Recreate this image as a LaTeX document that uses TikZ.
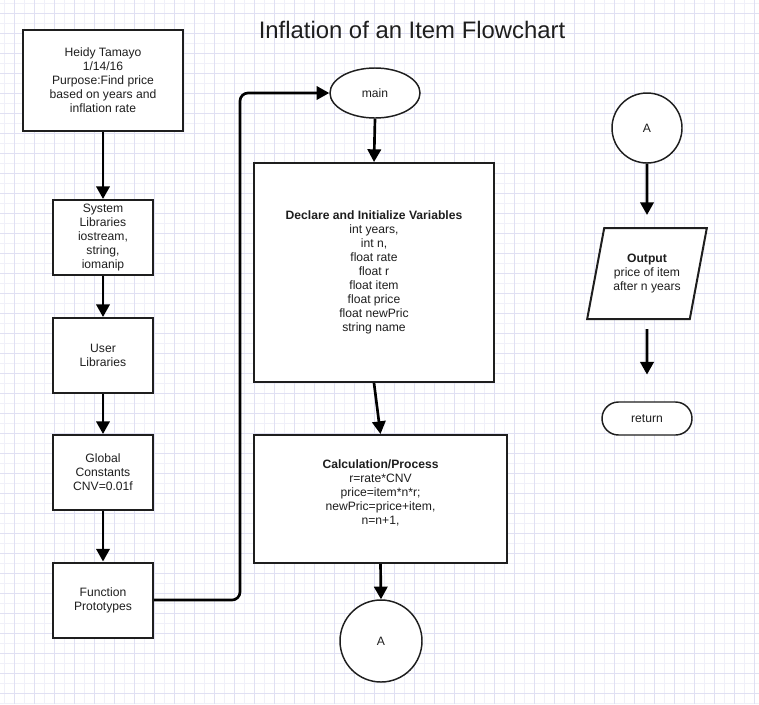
\documentclass[tikz,border=0pt]{standalone}
\usepackage{fontspec}
\setmainfont{Liberation Sans}
\usetikzlibrary{arrows.meta,shapes.geometric,shapes.misc}

\definecolor{gridmin}{RGB}{240,240,249}
\definecolor{gridmaj}{RGB}{224,224,243}
\definecolor{ink}{RGB}{30,30,30}

\tikzset{
  box/.style={draw=ink, line width=1.5pt, fill=white, align=center, inner sep=0pt},
  flow/.style={draw=black, line width=2pt, -{Triangle[length=9.5pt,width=10pt]}},
  conn/.style={circle, draw=ink, line width=1.1pt, fill=white, inner sep=0pt, minimum size=#1},
}

\begin{document}
\begin{tikzpicture}[x=0.75pt,y=-0.75pt,font=\fontsize{9.1}{10.5}\selectfont,text=ink]
\useasboundingbox (0,0) rectangle (759,704);
\fill[white] (0,0) rectangle (759,704);
% grid paper
\foreach \gx in {4,24,...,759} \draw[gridmin,line width=0.6pt] (\gx,0) -- (\gx,704);
\foreach \gy in {3,23,...,704} \draw[gridmin,line width=0.6pt] (0,\gy) -- (759,\gy);
\foreach \gx in {14,34,...,759} \draw[gridmaj,line width=0.6pt] (\gx,0) -- (\gx,704);
\foreach \gy in {13,33,...,704} \draw[gridmaj,line width=0.6pt] (0,\gy) -- (759,\gy);

\node[font=\fontsize{17.9}{21}\selectfont] (title) at (412,30) {Inflation of an Item Flowchart};

% left column
\node[box, minimum width=120pt, minimum height=75.75pt] (header) at (103,80.5)
  {Heidy Tamayo\\1/14/16\\Purpose:Find price\\based on years and\\inflation rate};
\node[box, minimum width=75pt, minimum height=56.25pt] (syslib) at (103,237.5)
  {System\\Libraries\\iostream,\\string,\\iomanip};
\node[box, minimum width=75pt, minimum height=56.25pt] (userlib) at (103,355.5)
  {User\\Libraries};
\node[box, minimum width=75pt, minimum height=56.25pt] (globals) at (103,472.5)
  {Global\\Constants\\CNV=0.01f};
\node[box, minimum width=75pt, minimum height=56.25pt] (protos) at (103,600)
  {Function\\Prototypes};

\draw[flow] (header) -- (syslib);
\draw[flow] (syslib) -- (userlib);
\draw[flow] (userlib) -- (globals);
\draw[flow] (globals) -- (protos);

% middle column
\node[ellipse, draw=ink, line width=1.1pt, fill=white, minimum width=67.5pt, minimum height=37.5pt, inner sep=0pt] (main) at (375,93) {main};
\coordinate (turn) at (240,93);
\draw[flow, rounded corners=6pt] (protos.east) -| (turn) -- (main.west);

\node[box, minimum width=180pt, minimum height=164.25pt] (decl) at (374,272.5)
  {\textbf{Declare and Initialize Variables}\\int years,\\int n,\\float rate\\float r\\float item\\float price\\float newPric\\string name};
\node[box, minimum width=189.75pt, minimum height=96pt] (calc) at (380.5,499)
  {\textbf{Calculation/Process}\\r=rate*CNV\\price=item*n*r;\\newPric=price+item,\\n=n+1,\\ \mbox{}};
\node[conn=61.5pt] (offA) at (381,641) {A};

\draw[flow] (main.south) -- (decl.north);
\draw[flow] (decl.south) -- (calc.north);
\draw[flow] (calc.south) -- (offA.north);

% right column
\node[conn=52.5pt] (onA) at (647,128) {A};
\node[trapezium, trapezium left angle=71, trapezium right angle=109, trapezium stretches=true,
  draw=ink, line width=1.5pt, fill=white, align=center, inner sep=0pt,
  minimum width=90pt, minimum height=68.25pt] (output) at (647,273.5)
  {\textbf{Output}\\price of item\\after n years};
\node[rounded rectangle, draw=ink, line width=1.1pt, fill=white, inner sep=0pt,
  minimum width=67.5pt, minimum height=24.75pt] (ret) at (647,418.5) {return};

\draw[flow, shorten >=9pt] (onA.south) -- (output.north);
\draw[flow, shorten <=6.75pt, shorten >=20pt] (output.south) -- (ret.north);
\end{tikzpicture}
\end{document}
